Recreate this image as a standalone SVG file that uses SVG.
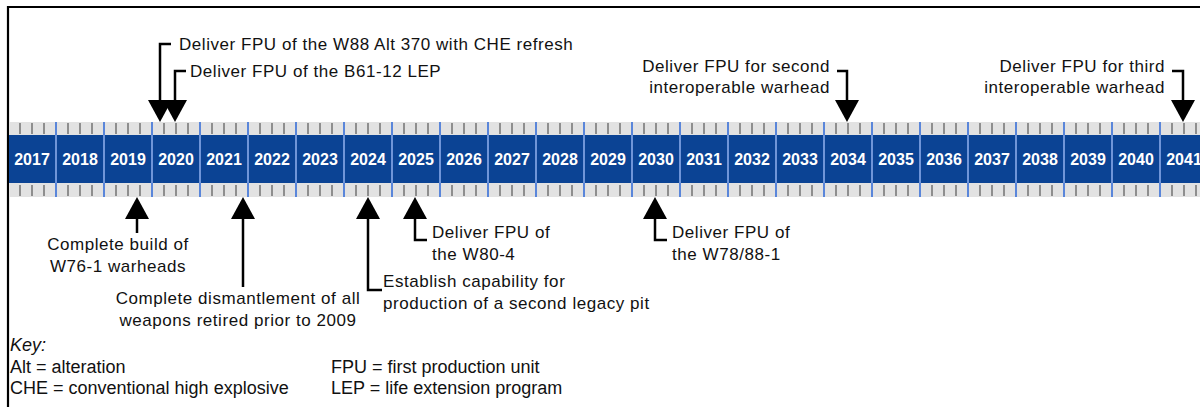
<svg xmlns="http://www.w3.org/2000/svg" width="1200" height="407" viewBox="0 0 1200 407">
<style>
.ann{font-family:"Liberation Sans",Arial,sans-serif;font-size:17px;letter-spacing:0.55px;fill:#111}
.end{text-anchor:end}
.mid{text-anchor:middle}
.yr{font-family:"Liberation Sans",Arial,sans-serif;font-size:16px;font-weight:bold;fill:#ffffff;text-anchor:middle}
.key{font-family:"Liberation Sans",Arial,sans-serif;font-size:18px;fill:#111}
.stem{stroke:#000;stroke-width:2.5;fill:none;marker-end:url(#ah)}
</style>
<defs>
<marker id="ah" viewBox="0 0 22 24" refX="0" refY="12" markerWidth="22" markerHeight="24" markerUnits="userSpaceOnUse" orient="auto">
<path d="M0,0 L22,12 L0,24 z" fill="#000"/>
</marker>
<pattern id="band" x="26" y="122" width="48" height="75" patternUnits="userSpaceOnUse">
<rect x="0" y="0" width="48" height="13" fill="#e2e2e2"/>
<rect x="0" y="13" width="48" height="48" fill="#0b4394"/>
<rect x="0" y="61" width="48" height="14" fill="#e2e2e2"/>
<g stroke="#8e8e8e" stroke-width="2">
<line x1="6" y1="1" x2="6" y2="12"/><line x1="18" y1="1" x2="18" y2="12"/><line x1="42" y1="1" x2="42" y2="12"/>
<line x1="6" y1="63" x2="6" y2="74"/><line x1="18" y1="63" x2="18" y2="74"/><line x1="42" y1="63" x2="42" y2="74"/>
</g>
<line x1="30" y1="0" x2="30" y2="13" stroke="#5a86da" stroke-width="2"/>
<line x1="30" y1="13" x2="30" y2="61" stroke="#7095d8" stroke-width="2"/>
<line x1="30" y1="61" x2="30" y2="75" stroke="#5a86da" stroke-width="2"/>
</pattern>
</defs>
<rect x="0" y="0" width="1200" height="407" fill="#ffffff"/>
<path d="M8,420 V7 H1210" fill="none" stroke="#000" stroke-width="2.2"/>
<g id="timeline">
<rect x="9" y="122" width="1191" height="75" fill="url(#band)"/>
<g class="yr">
<text x="32" y="165">2017</text><text x="80" y="165">2018</text><text x="128" y="165">2019</text><text x="176" y="165">2020</text><text x="224" y="165">2021</text><text x="272" y="165">2022</text><text x="320" y="165">2023</text><text x="368" y="165">2024</text><text x="416" y="165">2025</text><text x="464" y="165">2026</text><text x="512" y="165">2027</text><text x="560" y="165">2028</text><text x="608" y="165">2029</text><text x="656" y="165">2030</text><text x="704" y="165">2031</text><text x="752" y="165">2032</text><text x="800" y="165">2033</text><text x="848" y="165">2034</text><text x="896" y="165">2035</text><text x="944" y="165">2036</text><text x="992" y="165">2037</text><text x="1040" y="165">2038</text><text x="1088" y="165">2039</text><text x="1136" y="165">2040</text><text x="1184" y="165">2041</text>
</g>
</g>
<g id="connectors">
<path class="stem" d="M171,44 H160 V100"/>
<path class="stem" d="M186,71 H175 V100"/>
<path class="stem" d="M837,71 H847 V100"/>
<path class="stem" d="M1172,71 H1183 V100"/>
<path class="stem" d="M137,233 V219"/>
<path class="stem" d="M243,287 V219"/>
<path class="stem" d="M382,290 H368 V219"/>
<path class="stem" d="M427,240 H415 V219"/>
<path class="stem" d="M667,240 H655 V219"/>
</g>
<g id="w88"><text class="ann" x="179" y="50">Deliver FPU of the W88 Alt 370 with CHE refresh</text></g>
<g id="b61"><text class="ann" x="190" y="77">Deliver FPU of the B61-12 LEP</text></g>
<g id="second"><text class="ann end" x="830" y="72">Deliver FPU for second</text><text class="ann end" x="830" y="93">interoperable warhead</text></g>
<g id="third"><text class="ann end" x="1165" y="72">Deliver FPU for third</text><text class="ann end" x="1165" y="93">interoperable warhead</text></g>
<g id="w76"><text class="ann mid" x="118" y="250">Complete build of</text><text class="ann mid" x="118" y="272">W76-1 warheads</text></g>
<g id="dismantle"><text class="ann mid" x="238" y="304">Complete dismantlement of all</text><text class="ann mid" x="238" y="326">weapons retired prior to 2009</text></g>
<g id="establish"><text class="ann" x="383" y="287">Establish capability for</text><text class="ann" x="383" y="309">production of a second legacy pit</text></g>
<g id="w80"><text class="ann" x="432" y="238">Deliver FPU of</text><text class="ann" x="432" y="260">the W80-4</text></g>
<g id="w78"><text class="ann" x="672" y="238">Deliver FPU of</text><text class="ann" x="672" y="260">the W78/88-1</text></g>
<g id="key">
<text class="key" x="10" y="351" font-style="italic">Key:</text>
<text class="key" x="10" y="373">Alt = alteration</text>
<text class="key" x="10" y="394">CHE = conventional high explosive</text>
<text class="key" x="331" y="373">FPU = first production unit</text>
<text class="key" x="331" y="394">LEP = life extension program</text>
</g>
</svg>
